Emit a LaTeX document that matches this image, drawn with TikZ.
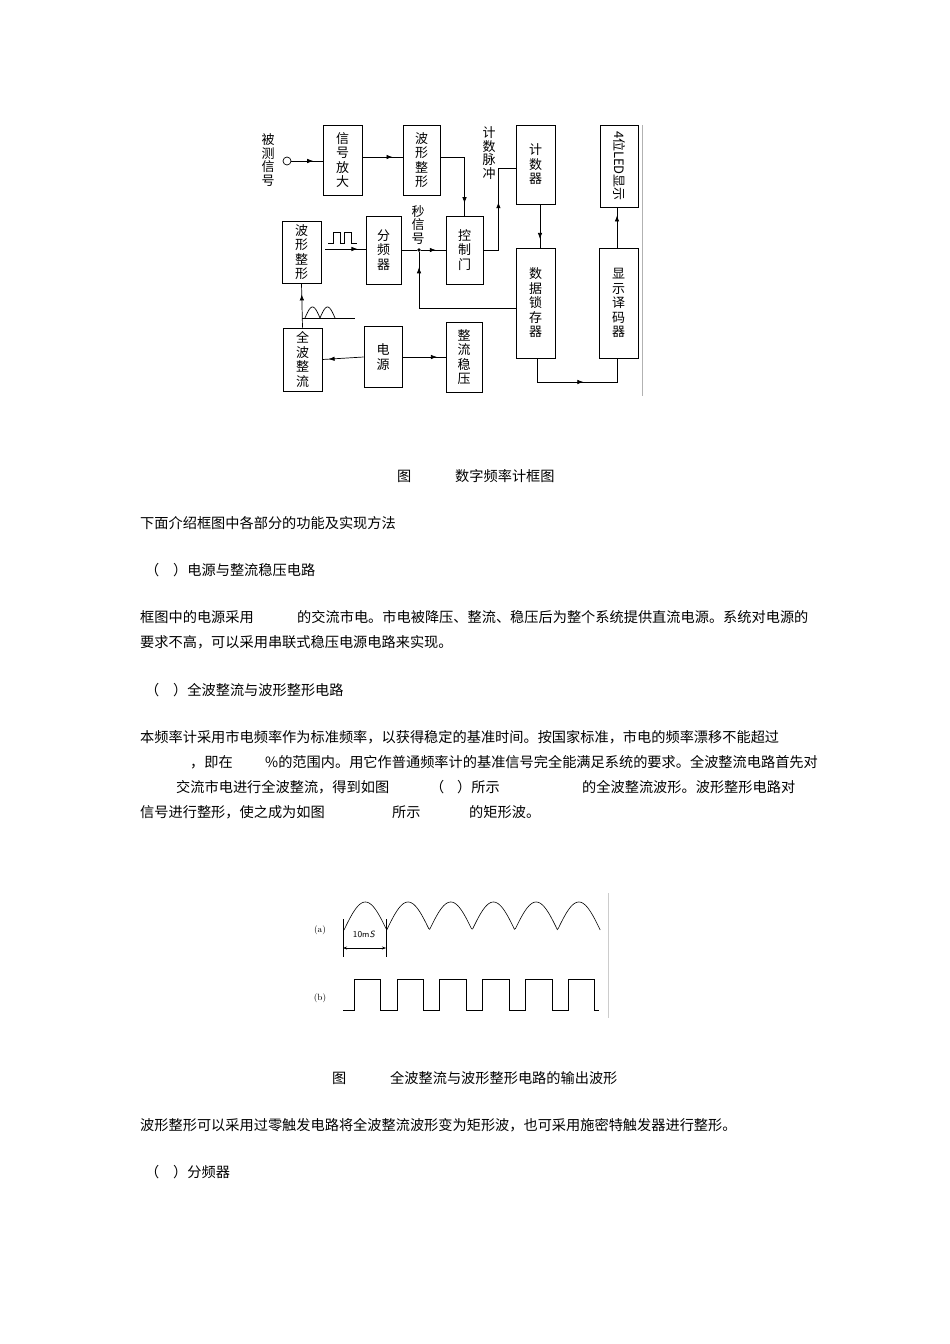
\documentclass[tikz,border=0pt]{standalone}
\usepackage{fontspec}
\newfontfamily\cjk{Noto Sans CJK SC}
\usetikzlibrary{decorations.markings,arrows.meta,calc}
\begin{document}
\begin{tikzpicture}[x=1pt,y=-1pt,
  blk/.style={draw,line width=0.8pt,inner sep=0pt,align=center,font=\cjk\fontsize{13}{14.5}\selectfont},
  ln/.style={line width=0.7pt},
  mid/.style={ln,postaction={decorate},decoration={markings,mark=at position #1 with {\arrow{Latex[length=6pt,width=4.5pt]}}}},
  txt/.style={anchor=west,inner sep=0pt,font=\cjk\fontsize{14.2}{15}\selectfont},
  lbl/.style={inner sep=0pt,align=center,font=\cjk\fontsize{13}{13.5}\selectfont}]
\useasboundingbox (0,0) rectangle (950,1344);
% boxes
\node[blk,minimum width=39,minimum height=70] (amp) at (342.5,160) {信\\号\\放\\大};
\node[blk,minimum width=37,minimum height=70] (wave1) at (421.5,160) {波\\形\\整\\形};
\node[blk,minimum width=39,minimum height=79] (counter) at (535.5,164.5) {计\\数\\器};
\node[blk,minimum width=38,minimum height=82] (led) at (619,166) {\rotatebox{-90}{4位LED显示}};
\node[blk,minimum width=39,minimum height=62] (wave2) at (301.5,252) {波\\形\\整\\形};
\node[blk,minimum width=35,minimum height=68] (div) at (383.5,250) {分\\频\\器};
\node[blk,minimum width=37,minimum height=68] (ctrl) at (464.5,250) {控\\制\\门};
\node[blk,minimum width=39,minimum height=110] (latch) at (535.5,303) {数\\据\\锁\\存\\器};
\node[blk,minimum width=39,minimum height=110] (dec) at (618.5,303) {显\\示\\译\\码\\器};
\node[blk,minimum width=39,minimum height=63] (full) at (302.5,359.5) {全\\波\\整\\流};
\node[blk,minimum width=38,minimum height=61] (power) at (383,357) {电\\源};
\node[blk,minimum width=36,minimum height=70] (reg) at (464,357) {整\\流\\稳\\压};
\node[draw,circle,ln,minimum size=8,inner sep=0pt] (in) at (287,161) {};
\node[lbl] (l1) at (268,160) {被\\测\\信\\号};
\node[lbl] (l2) at (489,153) {计\\数\\脉\\冲};
\node[lbl] (l3) at (418,225) {秒\\信\\号};
\node[circle,fill,inner sep=1.3pt] (dot) at (419,250) {};
% connectors
\draw[mid=0.7] (in) -- (amp.west |- in);
\draw[mid=0.75] (amp.east |- 0,157) -- (wave1.west |- 0,157);
\draw[mid=0.85] (wave1.east |- 0,157) -| (ctrl.north);
\draw[mid=0.55] (ctrl.east) -- ++(15,0) |- (counter.west |- 0,168);
\coordinate (pin) at (325,249);
\draw[mid=0.8] (pin) -- (div.west |- pin);
\draw[ln] (div.east) -- (dot);
\draw[mid=0.6] (dot) -- (ctrl.west);
\draw[mid=0.9] (latch.west |- 0,308) -| (dot);
\draw[mid=0.8] (counter.south -| 540,0) -- (latch.north -| 540,0);
\draw[mid=0.55] (latch.south -| 537,0) -- (537,382) -| (dec.south -| 617,0);
\draw[mid=0.8] (dec.north -| 617,0) -- (led.south -| 617,0);
\draw[mid=0.75] (full.north) -- (wave2.south);
\draw[mid=0.85] (power.west) -- (full.east);
\draw[mid=0.8] (power.east) -- (reg.west);
% small waveforms
\draw[ln] (328,243) -- (333,243) -- (333,232) -- (340,232) -- (340,243) -- (344,243) -- (344,232) -- (351,232) -- (351,243) -- (357,243);
\draw[ln] (302,318) -- (355,318);
\draw[ln,domain=0:1,samples=20] plot ({305+15*\x},{318-11*sin(180*\x)});
\draw[ln,domain=0:1,samples=20] plot ({320+15*\x},{318-11*sin(180*\x)});
\draw[gray!60,line width=0.6pt] (642,125) -- (642,396);
% captions and text
\node[txt] (c1a) at (397,476) {图};
\node[txt] (c1b) at (455,476) {数字频率计框图};
\node[txt] (t1) at (140,523) {下面介绍框图中各部分的功能及实现方法};
\node[txt] (t2a) at (145,570) {（};
\node[txt] (t2b) at (173,570) {）电源与整流稳压电路};
\node[txt] (t3a) at (140,617) {框图中的电源采用};
\node[txt] (t3b) at (297,617) {的交流市电。市电被降压、整流、稳压后为整个系统提供直流电源。系统对电源的};
\node[txt] (t4) at (140,642) {要求不高，可以采用串联式稳压电源电路来实现。};
\node[txt] (t5a) at (145,690) {（};
\node[txt] (t5b) at (173,690) {）全波整流与波形整形电路};
\node[txt] (t6) at (140,737) {本频率计采用市电频率作为标准频率，以获得稳定的基准时间。按国家标准，市电的频率漂移不能超过};
\node[txt] (t7a) at (190,762) {，即在};
\node[txt] (t7b) at (265,762) {\%的范围内。用它作普通频率计的基准信号完全能满足系统的要求。全波整流电路首先对};
\node[txt] (t8a) at (176,787) {交流市电进行全波整流，得到如图};
\node[txt] (t8b) at (430,787) {（};
\node[txt] (t8c) at (457,787) {）所示};
\node[txt] (t8d) at (582,787) {的全波整流波形。波形整形电路对};
\node[txt] (t9a) at (140,812) {信号进行整形，使之成为如图};
\node[txt] (t9b) at (392,812) {所示};
\node[txt] (t9c) at (469,812) {的矩形波。};
\node[txt] (c2a) at (332,1078) {图};
\node[txt] (c2b) at (390,1078) {全波整流与波形整形电路的输出波形};
\node[txt] (t10) at (140,1125) {波形整形可以采用过零触发电路将全波整流波形变为矩形波，也可采用施密特触发器进行整形。};
\node[txt] (t11a) at (145,1172) {（};
\node[txt] (t11b) at (173,1172) {）分频器};
% output waveforms
\node[lbl,font=\fontsize{9}{10}\selectfont] (wa) at (320,930) {(a)};
\node[lbl,font=\fontsize{9}{10}\selectfont] (wb) at (320,998) {(b)};
\draw[line width=0.6pt,domain=0:6,samples=240] plot ({344+42.7*\x},{930-28*abs(sin(180*\x))});
\draw[line width=0.6pt] (343,919) -- (343,957);
\draw[line width=0.6pt] (386,919) -- (386,957);
\draw[line width=0.5pt,{Stealth[length=4pt]}-{Stealth[length=4pt]}] (343,948) -- (386,948);
\node[lbl,font=\sffamily\fontsize{9}{10}\selectfont] (ms) at (364,934) {10m\textit{S}};
\draw[line width=0.6pt] (343,1010) -- (354,1010) -- (354,979) -- (380,979) -- (380,1010) -- (397,1010) -- (397,979) -- (423,979) -- (423,1010) -- (439,1010) -- (439,979) -- (466,979) -- (466,1010) -- (482,1010) -- (482,979) -- (509,979) -- (509,1010) -- (525,1010) -- (525,979) -- (552,979) -- (552,1010) -- (568,1010) -- (568,979) -- (594,979) -- (594,1010) -- (599,1010);
\draw[gray!40,line width=0.6pt] (608,893) -- (608,1018);
\end{tikzpicture}
\end{document}
